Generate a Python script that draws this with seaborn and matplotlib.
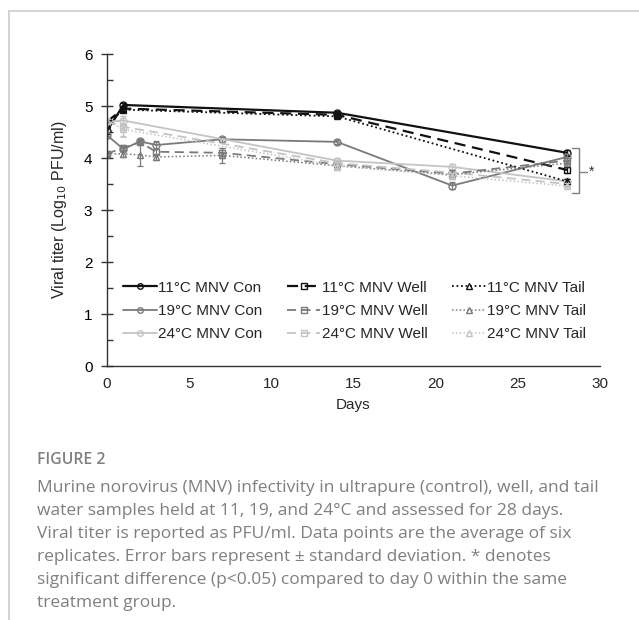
import matplotlib
matplotlib.use("Agg")
import matplotlib.pyplot as plt
from matplotlib.lines import Line2D
import seaborn as sns
import pandas as pd

# Data
days_11 = [0, 1, 14, 28]
days_19 = [0, 1, 2, 3, 7, 14, 21, 28]
days_24 = [0, 1, 14, 21, 28]

con_11 = [4.52, 5.02, 4.87, 4.10]
well_11 = [4.70, 4.95, 4.83, 3.77]
tail_11 = [4.65, 4.93, 4.80, 3.55]
con_11_sd = [0.05, 0.04, 0.04, 0.05]
well_11_sd = [0.05, 0.04, 0.04, 0.05]
tail_11_sd = [0.05, 0.04, 0.04, 0.05]

con_19 = [4.44, 4.17, 4.32, 4.25, 4.36, 4.31, 3.47, 4.02]
well_19 = [4.08, 4.20, 4.30, 4.12, 4.10, 3.88, 3.70, 3.95]
tail_19 = [4.08, 4.08, 4.06, 4.02, 4.05, 3.85, 3.68, 3.90]
con_19_sd = [0.05, 0.05, 0.05, 0.08, 0.05, 0.04, 0.06, 0.05]
well_19_sd = [0.05, 0.05, 0.05, 0.06, 0.10, 0.05, 0.05, 0.05]
tail_19_sd = [0.05, 0.07, 0.22, 0.06, 0.15, 0.08, 0.08, 0.05]

con_24 = [4.70, 4.72, 3.95, 3.83, 3.55]
well_24 = [4.70, 4.60, 3.90, 3.72, 3.50]
tail_24 = [4.72, 4.55, 3.85, 3.66, 3.46]
con_24_sd = [0.05, 0.08, 0.05, 0.05, 0.05]
well_24_sd = [0.05, 0.20, 0.05, 0.05, 0.05]
tail_24_sd = [0.05, 0.12, 0.08, 0.05, 0.05]

x_ticks = [0, 5, 10, 15, 20, 25, 30]
y_ticks = [0, 1, 2, 3, 4, 5, 6]

caption_title = "FIGURE 2"
caption_lines = [
    "Murine norovirus (MNV) infectivity in ultrapure (control), well, and tail",
    "water samples held at 11, 19, and 24°C and assessed for 28 days.",
    "Viral titer is reported as PFU/ml. Data points are the average of six",
    "replicates. Error bars represent \u00b1 standard deviation. * denotes",
    "significant difference (p<0.05) compared to day 0 within the same",
    "treatment group.",
]

# Styles
temp_colors = {"11": "#111111", "19": "#7a7a7a", "24": "#c4c4c4"}
water_styles = {
    "Con": dict(marker="o", linestyle="-"),
    "Well": dict(marker="s", linestyle=(0, (5, 3))),
    "Tail": dict(marker="^", linestyle=(0, (1, 1.5))),
}

series = [
    ("11", "Con", days_11, con_11, con_11_sd),
    ("19", "Con", days_19, con_19, con_19_sd),
    ("24", "Con", days_24, con_24, con_24_sd),
    ("11", "Well", days_11, well_11, well_11_sd),
    ("19", "Well", days_19, well_19, well_19_sd),
    ("24", "Well", days_24, well_24, well_24_sd),
    ("11", "Tail", days_11, tail_11, tail_11_sd),
    ("19", "Tail", days_19, tail_19, tail_19_sd),
    ("24", "Tail", days_24, tail_24, tail_24_sd),
]

sns.set_style("ticks")
plt.rcParams["font.family"] = ["Liberation Sans", "DejaVu Sans"]

W, H = 639, 620
fig = plt.figure(figsize=(W / 100, H / 100), dpi=100)
ax = fig.add_axes([107 / W, (H - 366) / H, 493 / W, 312 / H])

handles = []
for temp, water, d, v, sd in series:
    col = temp_colors[temp]
    st = water_styles[water]
    df = pd.DataFrame({"Days": d, "Titer": v})
    lw = 1.6 if temp == "11" else 1.3
    if water == "Tail":
        lw = 1.3 if temp == "11" else 1.1
    sns.lineplot(data=df, x="Days", y="Titer", ax=ax, color=col,
                 linestyle=st["linestyle"], marker=st["marker"], markersize=5,
                 markerfacecolor="none", markeredgecolor=col, markeredgewidth=1,
                 linewidth=lw, legend=False)
    ax.errorbar(d, v, yerr=sd, fmt="none", ecolor=col, elinewidth=0.9, capsize=2.5, capthick=0.9)
    handles.append(Line2D([], [], color=col, linestyle=st["linestyle"], linewidth=lw,
                          marker=st["marker"], markersize=4, markerfacecolor="none",
                          markeredgecolor=col, label=f"{temp}°C MNV {water}"))

ax.set_xlim(0, 30)
ax.set_ylim(0, 6)
ax.set_xticks(x_ticks)
ax.set_yticks(y_ticks)
ax.set_yticks([0.5 + i for i in range(6)], minor=True)
ax.tick_params(axis="x", length=0, labelsize=11, pad=8)
ax.tick_params(axis="y", which="major", direction="inout", length=9, width=1,
               colors="#333333", labelcolor="black", labelsize=11, pad=6)
ax.tick_params(axis="y", which="minor", direction="in", length=4, width=1, colors="#333333")
sns.despine(ax=ax)
for s in ["left", "bottom"]:
    ax.spines[s].set_color("#333333")
    ax.spines[s].set_linewidth(1)
ax.set_xlabel("Days", fontsize=11, labelpad=5)
ax.set_ylabel("Viral titer (Log$_{10}$ PFU/ml)", fontsize=11.5, labelpad=11)

ax.legend(handles=handles, ncol=3, frameon=False, fontsize=11,
          loc="lower left", bbox_to_anchor=(0.02, 0.06), handlelength=2.2,
          handletextpad=0.1, columnspacing=1.6, labelspacing=0.6, borderaxespad=0)

# significance bracket at day 28
br_x, br_top, br_bot, br_mid = 28.7, 4.19, 3.33, 3.73
ax.plot([28.3, br_x, br_x, 28.3], [br_top, br_top, br_bot, br_bot], color="#808080", lw=1, clip_on=False)
ax.plot([br_x, 29.2], [br_mid, br_mid], color="#808080", lw=1, clip_on=False)
ax.text(29.35, br_mid, "*", color="#333333", fontsize=10, va="center", ha="left")

# page frame
fig.add_artist(Line2D([9 / W, 1], [1 - 11 / H, 1 - 11 / H], color="#cccccc", lw=1.2))
fig.add_artist(Line2D([9 / W, 9 / W], [0, 1 - 11 / H], color="#cccccc", lw=1.2))

# caption
fig.text(37 / W, 1 - 460 / H, caption_title, fontsize=11.3, color="#808080",
         family="Open Sans", fontweight="semibold", va="center")
for i, line in enumerate(caption_lines):
    fig.text(37 / W, 1 - (488 + i * 23) / H, line, fontsize=12.5, color="#7f7f7f",
             family="Open Sans", va="center")

fig.savefig("out.png", dpi=100)
